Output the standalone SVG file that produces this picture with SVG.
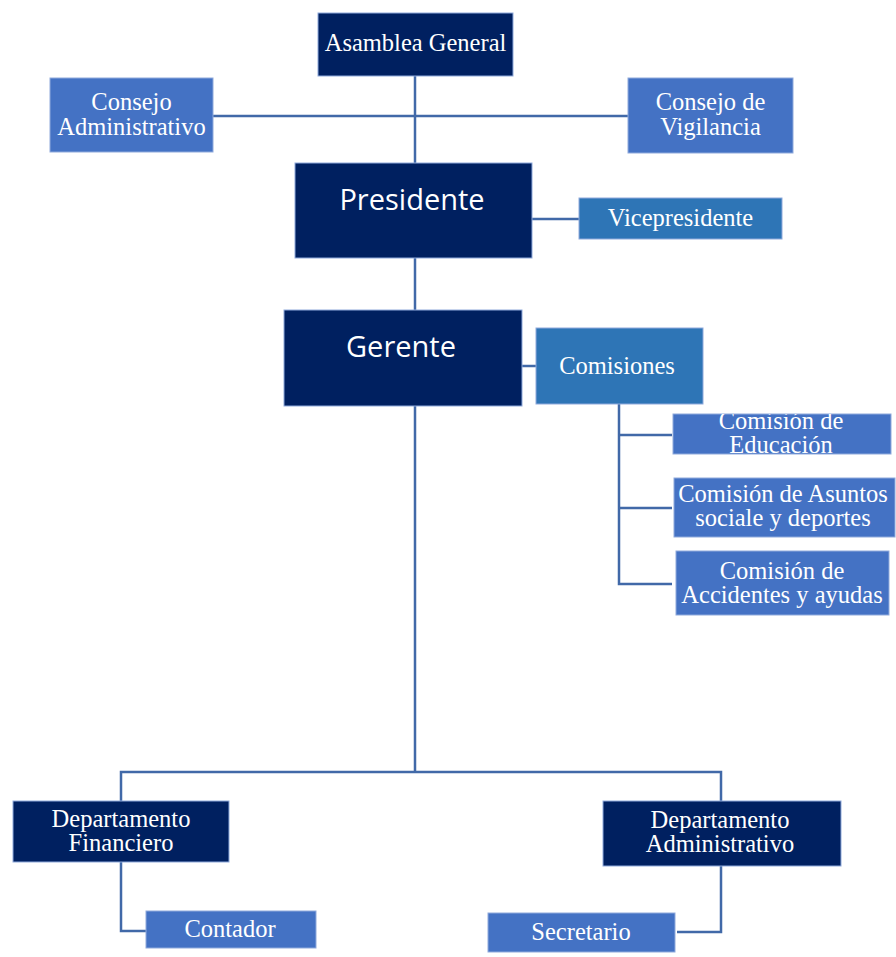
<svg xmlns="http://www.w3.org/2000/svg" width="896" height="957" viewBox="0 0 896 957">
<style>
.dk{fill:#002060;stroke:#8FAADC;stroke-width:1}
.md{fill:#4472C4;stroke:#8FAADC;stroke-width:1}
.lt{fill:#2E75B6;stroke:#8FAADC;stroke-width:1}
.t{font-family:"Liberation Serif","Times New Roman",serif;font-size:24.5px;fill:#ffffff;text-anchor:middle;dominant-baseline:central}
.s{font-family:"Open Sans","Noto Sans",sans-serif;font-size:29px;fill:#ffffff;text-anchor:middle;dominant-baseline:central}
.c{fill:none;stroke:#4169A8;stroke-width:2.5}
</style>
<defs>
<clipPath id="clipEdu"><rect x="673" y="414" width="218" height="40"/></clipPath>
</defs>
<rect width="896" height="957" fill="#ffffff"/>
<g id="connectors">
<line class="c" x1="415" y1="76" x2="415" y2="310"/>
<line class="c" x1="213" y1="116" x2="628" y2="116"/>
<line class="c" x1="532" y1="219" x2="579" y2="219"/>
<line class="c" x1="522" y1="366" x2="536" y2="366"/>
<polyline class="c" points="619,404 619,584 672,584"/>
<line class="c" x1="619" y1="435" x2="672" y2="435"/>
<line class="c" x1="619" y1="508" x2="672" y2="508"/>
<line class="c" x1="415" y1="406" x2="415" y2="772"/>
<polyline class="c" points="121,801 121,772 721,772 721,801"/>
<polyline class="c" points="121,862 121,931 146,931"/>
<polyline class="c" points="721,866 721,932 677,932"/>
</g>
<g id="asamblea">
<rect class="dk" x="318" y="13" width="195" height="63"/>
<text class="t" x="415.5" y="42">Asamblea General</text>
</g>
<g id="consejo-admin">
<rect class="md" x="50" y="78" width="163" height="74"/>
<text class="t" x="131.5" y="101">Consejo</text>
<text class="t" x="131.5" y="126">Administrativo</text>
</g>
<g id="consejo-vig">
<rect class="md" x="628" y="78" width="165" height="75"/>
<text class="t" x="710.5" y="101">Consejo de</text>
<text class="t" x="710.5" y="126">Vigilancia</text>
</g>
<g id="presidente">
<rect class="dk" x="295" y="163" width="237" height="95"/>
<text class="s" x="412" y="198">Presidente</text>
</g>
<g id="vicepresidente">
<rect class="lt" x="579" y="198" width="203" height="41"/>
<text class="t" x="680.5" y="217">Vicepresidente</text>
</g>
<g id="gerente">
<rect class="dk" x="284" y="310" width="238" height="96"/>
<text class="s" x="401" y="345">Gerente</text>
</g>
<g id="comisiones">
<rect class="lt" x="536" y="328" width="167" height="76"/>
<text class="t" x="617" y="365">Comisiones</text>
</g>
<g id="com-educacion">
<rect class="md" x="673" y="414" width="218" height="40"/>
<g clip-path="url(#clipEdu)">
<text class="t" x="781" y="420">Comisión de</text>
<text class="t" x="781" y="444">Educación</text>
</g>
</g>
<g id="com-asuntos">
<rect class="md" x="674" y="478" width="221" height="59"/>
<text class="t" x="783" y="493">Comisión de Asuntos</text>
<text class="t" x="783" y="517">sociale y deportes</text>
</g>
<g id="com-accidentes">
<rect class="md" x="676" y="551" width="213" height="64"/>
<text class="t" x="782" y="570">Comisión de</text>
<text class="t" x="782" y="594">Accidentes y ayudas</text>
</g>
<g id="dep-financiero">
<rect class="dk" x="13" y="801" width="216" height="61"/>
<text class="t" x="121" y="818">Departamento</text>
<text class="t" x="121" y="842">Financiero</text>
</g>
<g id="contador">
<rect class="md" x="146" y="911" width="170" height="37"/>
<text class="t" x="230" y="928">Contador</text>
</g>
<g id="dep-admin">
<rect class="dk" x="603" y="801" width="238" height="65"/>
<text class="t" x="720" y="819">Departamento</text>
<text class="t" x="720" y="843">Administrativo</text>
</g>
<g id="secretario">
<rect class="md" x="488" y="913" width="187" height="39"/>
<text class="t" x="581" y="931">Secretario</text>
</g>
</svg>
